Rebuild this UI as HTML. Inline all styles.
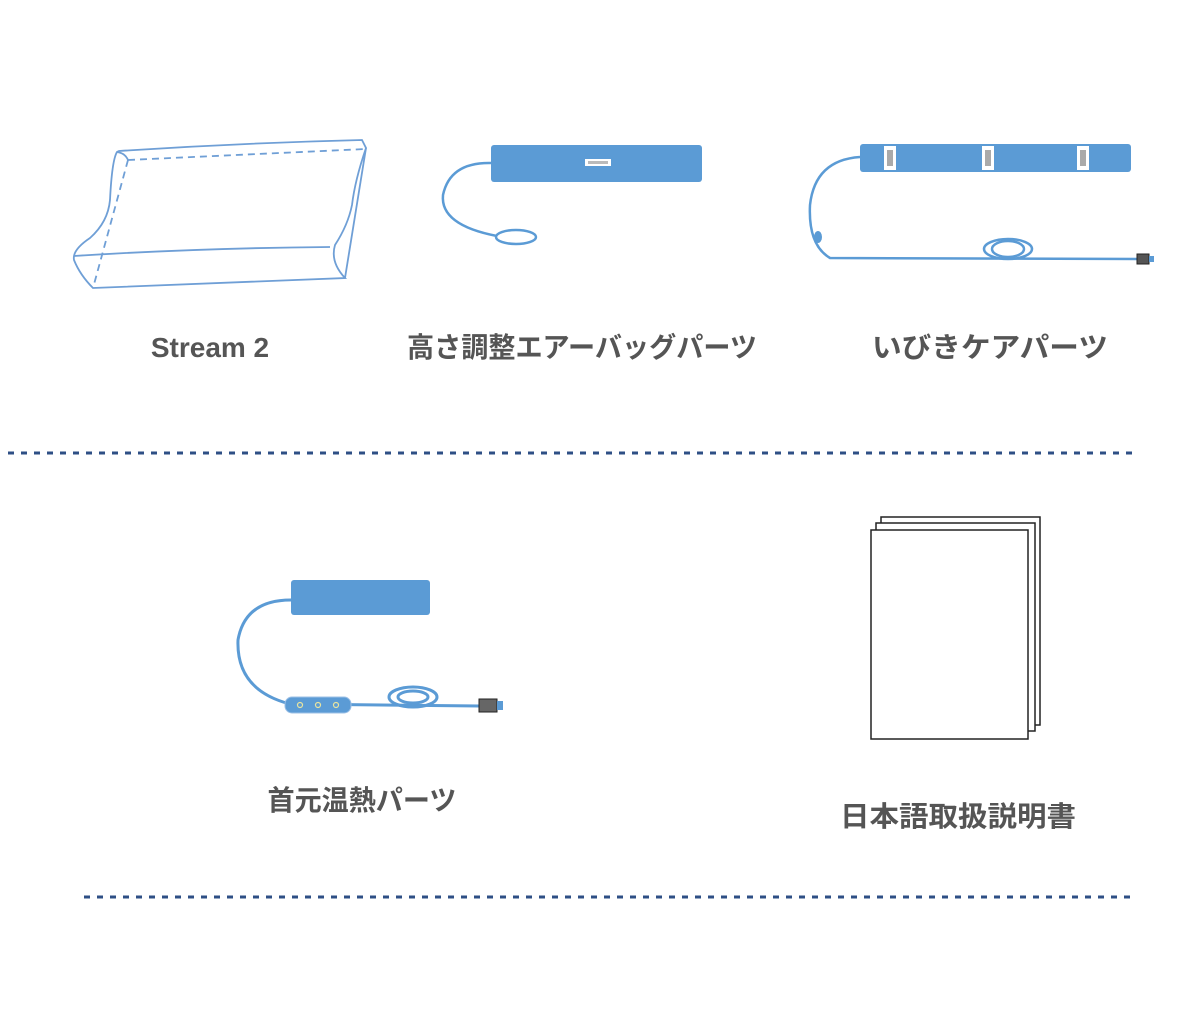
<!DOCTYPE html>
<html><head><meta charset="utf-8"><style>
html,body{margin:0;padding:0;background:#fff;}
svg{display:block}
text{font-family:"Liberation Sans","Noto Sans CJK JP",sans-serif;font-weight:bold;fill:#555;font-size:28px}
</style></head><body>
<svg width="1200" height="1024" viewBox="0 0 1200 1024" xmlns="http://www.w3.org/2000/svg">
<!-- pillow -->
<g fill="none" stroke="#6f9fd6" stroke-width="1.8">
<path d="M119 151 Q240 143 362 140 L366 148 Q355 180 352 205 Q348 225 335 245 Q330 262 345 278 L93 288 Q80 275 74 260 Q72 250 90 238 Q108 222 110 200 Q112 160 117 152 Z"/>
<path d="M117 152 Q125 153 128 160"/>
<path d="M366 148 L345 278"/>
<path d="M74 256 Q200 248 330 247"/>
<path d="M128 160 L366 149" stroke-dasharray="7 5"/>
<path d="M128 160 L93 288" stroke-dasharray="7 5"/>
</g>
<!-- airbag part -->
<rect x="491" y="145" width="211" height="37" rx="3" fill="#5b9bd5"/>
<rect x="585" y="159" width="26" height="7" fill="#fff"/>
<rect x="588" y="161" width="20" height="3" fill="#bbb"/>
<g fill="none" stroke="#5b9bd5" stroke-width="2.5">
<path d="M491 163 Q450 162 443 195 Q440 225 497 236"/>
<ellipse cx="516" cy="237" rx="20" ry="7"/>
</g>
<!-- snore part -->
<rect x="860" y="144" width="271" height="28" rx="3" fill="#5b9bd5"/>
<g fill="#fff"><rect x="884" y="146" width="12" height="24"/><rect x="982" y="146" width="12" height="24"/><rect x="1077" y="146" width="12" height="24"/></g>
<g fill="#aaa"><rect x="887" y="150" width="6" height="16"/><rect x="985" y="150" width="6" height="16"/><rect x="1080" y="150" width="6" height="16"/></g>
<g fill="none" stroke="#5b9bd5" stroke-width="2.5">
<path d="M860 157 Q815 160 810 205 Q808 245 830 258 L1140 259"/>
<ellipse cx="1008" cy="249" rx="24" ry="10"/>
<ellipse cx="1008" cy="249" rx="16" ry="8"/>
</g>
<ellipse cx="818" cy="237" rx="4" ry="6" fill="#5b9bd5"/>
<rect x="1137" y="254" width="12" height="10" fill="#555" stroke="#222"/>
<rect x="1149" y="256" width="5" height="6" fill="#5b9bd5"/>
<!-- neck warmer -->
<rect x="291" y="580" width="139" height="35" rx="3" fill="#5b9bd5"/>
<g fill="none" stroke="#5b9bd5" stroke-width="3">
<path d="M291 600 Q245 600 238 640 Q236 690 290 704 L480 706"/>
<ellipse cx="413" cy="697" rx="24" ry="10"/>
<ellipse cx="413" cy="697" rx="15" ry="6"/>
</g>
<rect x="285" y="697" width="66" height="16" rx="7" fill="#5b9bd5" stroke="#9cc0e6"/>
<g fill="none" stroke="#e8e4a0" stroke-width="1.2"><circle cx="300" cy="705" r="2.5"/><circle cx="318" cy="705" r="2.5"/><circle cx="336" cy="705" r="2.5"/></g>
<rect x="479" y="699" width="18" height="13" fill="#666" stroke="#222"/>
<rect x="497" y="701" width="6" height="9" fill="#5b9bd5"/>
<!-- manual -->
<g fill="#fff" stroke="#222" stroke-width="1.5">
<rect x="881" y="517" width="159" height="208"/>
<rect x="876" y="523" width="159" height="208"/>
<rect x="871" y="530" width="157" height="209"/>
</g>
<!-- dotted lines -->
<g stroke="#2e4f85" stroke-width="3" stroke-dasharray="6 7">
<line x1="8" y1="453" x2="1135" y2="453"/>
<line x1="84" y1="897" x2="1132" y2="897"/>
</g>
<!-- labels -->
<text x="210" y="357" text-anchor="middle">Stream 2</text>
<text x="582" y="357" text-anchor="middle" textLength="350" lengthAdjust="spacingAndGlyphs">高さ調整エアーバッグパーツ</text>
<text x="990" y="357" text-anchor="middle" textLength="236" lengthAdjust="spacingAndGlyphs">いびきケアパーツ</text>
<text x="362" y="810" text-anchor="middle" textLength="189" lengthAdjust="spacingAndGlyphs">首元温熱パーツ</text>
<text x="958" y="826" text-anchor="middle" textLength="236" lengthAdjust="spacingAndGlyphs">日本語取扱説明書</text>
</svg>
</body></html>
